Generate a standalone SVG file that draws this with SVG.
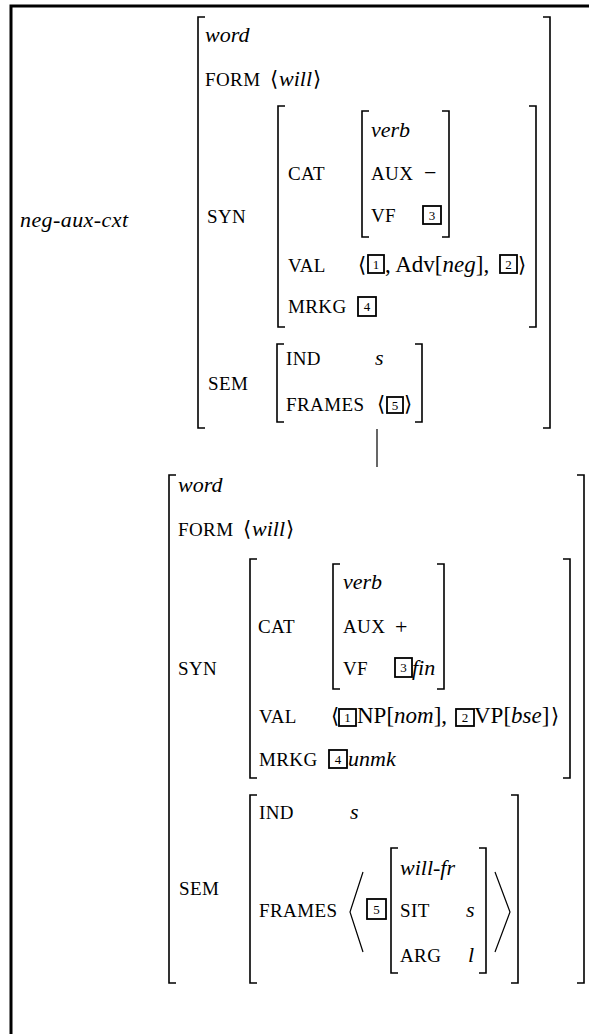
<svg xmlns="http://www.w3.org/2000/svg" width="589" height="1034" viewBox="0 0 589 1034" font-family="'Liberation Serif', Tinos, 'Times New Roman', 'DejaVu Serif', serif">
<style>
text{font-family:'Liberation Serif',Tinos,'Times New Roman','DejaVu Serif',serif;fill:#000}
.it{font-style:italic;font-size:22px}
.lb{font-size:19px;letter-spacing:0.4px}
.rm{font-size:22px}
.seg{font-size:23px}
.ang{font-size:21px;font-family:'DejaVu Serif',serif}
.num{font-size:13px;text-anchor:middle}
.br{fill:none;stroke:#000;stroke-width:1.6}
.box{fill:none;stroke:#000;stroke-width:1.8}
.ln{fill:none;stroke:#000;stroke-width:1.2}
</style>
<rect width="589" height="1034" fill="#fff"/>
<path d="M11,1034 V6 H589" fill="none" stroke="#000" stroke-width="3"/>

<g id="label">
<text class="it" x="20" y="227" textLength="108" lengthAdjust="spacing">neg-aux-cxt</text>
</g>

<g id="top-avm">
<path class="br" d="M205,17 H198 V428 H205 M543,17 H550 V428 H543"/>
<text class="it" x="205" y="42">word</text>
<text class="lb" x="205" y="86">FORM</text>
<text class="ang" x="270" y="86">⟨</text>
<text class="it" x="279" y="86">will</text>
<text class="ang" x="313" y="86">⟩</text>
<text class="lb" x="207" y="223">SYN</text>
<path class="br" d="M285,106 H278 V327 H285 M529,106 H536 V327 H529"/>
<text class="lb" x="288" y="180">CAT</text>
<path class="br" d="M369,111 H362 V237 H369 M442,111 H449 V237 H442"/>
<text class="it" x="371" y="137">verb</text>
<text class="lb" x="371" y="180">AUX</text>
<text class="rm" x="424" y="180">−</text>
<text class="lb" x="371" y="222">VF</text>
<rect class="box" x="423" y="206" width="18" height="18"/>
<text class="num" x="432" y="220">3</text>
<text class="lb" x="288" y="272">VAL</text>
<text class="ang" x="358" y="272">⟨</text>
<rect class="box" x="368" y="255" width="16" height="18"/>
<text class="num" x="376" y="269">1</text>
<text class="seg" x="385" y="272">, Adv[<tspan font-style="italic">neg</tspan>], </text>
<rect class="box" x="500" y="255" width="17" height="18"/>
<text class="num" x="508.5" y="269">2</text>
<text class="ang" x="518" y="272">⟩</text>
<text class="lb" x="288" y="313">MRKG</text>
<rect class="box" x="358" y="297" width="18" height="19"/>
<text class="num" x="367" y="311">4</text>
<text class="lb" x="208" y="390">SEM</text>
<path class="br" d="M284,344 H277 V422 H284 M415,344 H422 V422 H415"/>
<text class="lb" x="286" y="365">IND</text>
<text class="it" x="375" y="365">s</text>
<text class="lb" x="286" y="411">FRAMES</text>
<text class="ang" x="377" y="411">⟨</text>
<rect class="box" x="387" y="397" width="16" height="16"/>
<text class="num" x="395" y="410">5</text>
<text class="ang" x="404" y="411">⟩</text>
</g>

<g id="connectors">
<path class="ln" d="M377,429 V467"/>
</g>

<g id="bottom-avm">
<path class="br" d="M176,475 H169 V983 H176 M577,475 H584 V983 H577"/>
<text class="it" x="178" y="492">word</text>
<text class="lb" x="178" y="536">FORM</text>
<text class="ang" x="243" y="536">⟨</text>
<text class="it" x="252" y="536">will</text>
<text class="ang" x="286" y="536">⟩</text>
<text class="lb" x="178" y="675">SYN</text>
<path class="br" d="M257,559 H250 V778 H257 M563,559 H570 V778 H563"/>
<text class="lb" x="258" y="633">CAT</text>
<path class="br" d="M340,564 H333 V689 H340 M437,564 H444 V689 H437"/>
<text class="it" x="343" y="589">verb</text>
<text class="lb" x="343" y="633">AUX</text>
<text class="rm" x="395" y="634">+</text>
<text class="lb" x="343" y="675">VF</text>
<rect class="box" x="395" y="658" width="17" height="19"/>
<text class="num" x="403.5" y="672">3</text>
<text class="it" x="412" y="675">fin</text>
<text class="lb" x="259" y="723">VAL</text>
<text class="ang" x="331" y="723">⟨</text>
<rect class="box" x="339" y="709" width="17" height="17"/>
<text class="num" x="347.5" y="722">1</text>
<text class="seg" x="357" y="723">NP[<tspan font-style="italic">nom</tspan>], </text>
<rect class="box" x="456" y="709" width="18" height="17"/>
<text class="num" x="465" y="722">2</text>
<text class="seg" x="474" y="723">VP[<tspan font-style="italic">bse</tspan>]</text>
<text class="ang" x="551" y="723">⟩</text>
<text class="lb" x="259" y="766">MRKG</text>
<rect class="box" x="329" y="750" width="18" height="18"/>
<text class="num" x="338" y="764">4</text>
<text class="it" x="348" y="766">unmk</text>
<text class="lb" x="179" y="895">SEM</text>
<path class="br" d="M257,795 H250 V983 H257 M511,795 H518 V983 H511"/>
<text class="lb" x="259" y="819">IND</text>
<text class="it" x="350" y="819">s</text>
<text class="lb" x="259" y="917">FRAMES</text>
<path class="ln" d="M363,872 L350,912 L363,952"/>
<rect class="box" x="367" y="899" width="19" height="20"/>
<text class="num" x="376.5" y="914">5</text>
<path class="br" d="M398,848 H391 V973 H398 M479,848 H486 V973 H479"/>
<text class="it" x="400" y="875">will-fr</text>
<text class="lb" x="400" y="917">SIT</text>
<text class="it" x="466" y="917">s</text>
<text class="lb" x="400" y="962">ARG</text>
<text class="it" x="468" y="962">l</text>
<path class="ln" d="M495,872 L510,912 L495,952"/>
</g>
</svg>
